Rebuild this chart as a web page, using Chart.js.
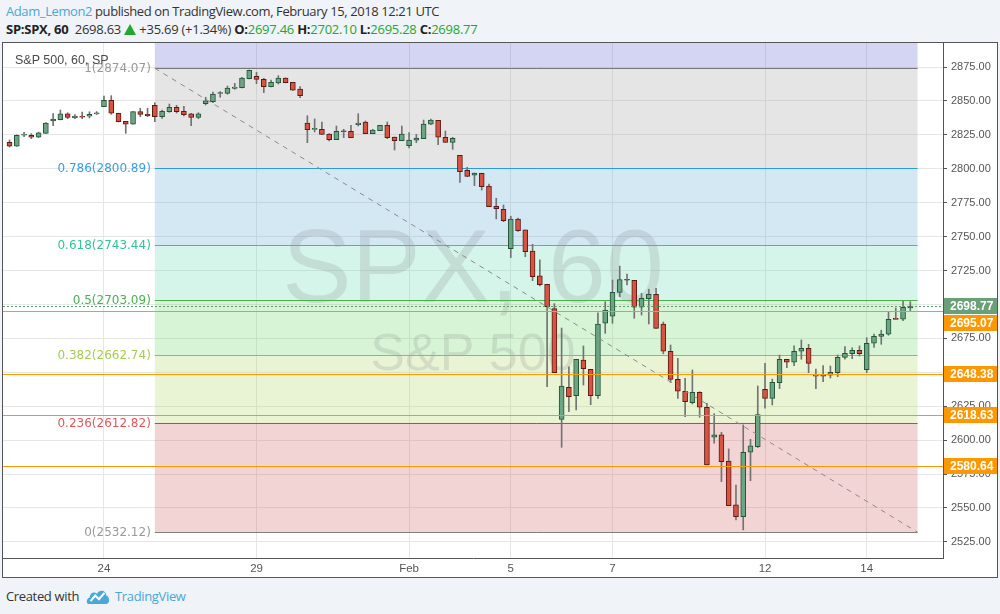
<!DOCTYPE html>
<html>
<head>
<meta charset="utf-8">
<script src="https://cdn.jsdelivr.net/npm/chart.js@4.4.0/dist/chart.umd.min.js"></script>
<style>
  body { margin: 0; width: 1000px; height: 614px; background: #f0f3f7; position: relative; overflow: hidden; font-family: 'Open Sans', sans-serif; color: #333; }
  #h1 { position: absolute; left: 6px; top: 2px; font-size: 13px; letter-spacing: -0.4px; white-space: nowrap; }
  #h1 .user { color: #4aa8d8; }
  #h2 { position: absolute; left: 6px; top: 20px; font-size: 13px; letter-spacing: -0.25px; white-space: nowrap; }
  #h2 b { color: #222; }
  #h2 .g { color: #22a82e; }
  #h2 .tri { display: inline-block; width: 0; height: 0; border-left: 6px solid transparent; border-right: 6px solid transparent; border-bottom: 11px solid #22a82e; vertical-align: -1px; }
  #box { position: absolute; left: 2px; top: 42px; width: 994px; height: 534px; border: 1px solid #555; background: #fff; }
  #sym { position: absolute; left: 15px; top: 53px; font-family: 'Liberation Sans', Arial, sans-serif; font-size: 12.5px; color: #4a4a4a; white-space: nowrap; }
  #foot { position: absolute; left: 6px; top: 587px; font-size: 13px; letter-spacing: -0.35px; white-space: nowrap; display: flex; align-items: center; }
  #foot .tv { color: #4aa8d8; margin-left: 5px; }
  #foot svg { margin-left: 7px; }
</style>
</head>
<body>
<div id="h1"><span class="user">Adam_Lemon2</span> published on TradingView.com, February 15, 2018 12:21 UTC</div>
<div id="h2"><b>SP:SPX, 60</b>&nbsp; 2698.63 <span class="tri"></span> +35.69 (+1.34%) <b>O:</b><span class="g">2697.46</span> <b>H:</b><span class="g">2702.10</span> <b>L:</b><span class="g">2695.28</span> <b>C:</b><span class="g">2698.77</span></div>
<div id="box"><canvas id="chart"></canvas></div>
<div id="sym">S&amp;P 500, 60, SP</div>
<div id="foot">Created with
  <svg width="24" height="17" viewBox="0 0 26 18"><path d="M3 17 C0 17 0 11 4 10 C4 5 9 3 12 6 C14 1 22 2 22 8 C26 9 26 17 22 17 Z" fill="#4aa8d8"/><polyline points="5,14 10,8 14,12 20,5" fill="none" stroke="#fff" stroke-width="2.2"/></svg>
  <span class="tv">TradingView</span></div>
<script>
// hourly SPX bars, Jan 22 (afternoon) .. Feb 14 2018
const open = [2819.5, 2816.6, 2824.8, 2824.7, 2823.2, 2826.1, 2835.2, 2836.2, 2840.4, 2837.7,
  2838.4, 2838.7, 2840.4, 2845.7, 2850.5, 2840.9, 2835.0, 2832.8, 2842.1, 2840.1,
  2846.8, 2838.4, 2842.1, 2845.3, 2842.3, 2840.4, 2837.9, 2848.0, 2849.4, 2855.5,
  2855.6, 2859.3, 2859.7, 2866.4, 2868.1, 2865.9, 2860.5, 2863.2, 2866.9, 2863.7,
  2858.8, 2833.7, 2829.0, 2829.1, 2825.6, 2821.4, 2827.8, 2827.6, 2832.5, 2834.5,
  2825.8, 2828.1, 2832.0, 2823.4, 2820.7, 2817.0, 2821.0, 2822.2, 2832.8, 2835.7,
  2823.2, 2819.5, 2809.9, 2798.9, 2795.2, 2796.7, 2787.3, 2772.3, 2770.1, 2741.1,
  2763.0, 2754.9, 2739.4, 2721.0, 2714.9, 2696.9, 2615.3, 2638.9, 2632.8, 2659.0,
  2652.2, 2632.8, 2686.1, 2691.3, 2708.9, 2718.4, 2717.8, 2697.9, 2704.2, 2707.5,
  2685.6, 2665.5, 2644.8, 2636.0, 2627.6, 2635.3, 2624.2, 2602.1, 2603.8, 2584.6,
  2552.2, 2543.6, 2591.1, 2595.2, 2637.5, 2630.8, 2642.4, 2659.6, 2657.4, 2665.5,
  2667.7, 2647.2, 2647.2, 2647.8, 2649.7, 2661.0, 2663.7, 2666.2, 2651.9, 2671.4,
  2676.5, 2678.0, 2689.4, 2689.1, 2697.46];
const high = [2821.2, 2825.0, 2826.9, 2825.9, 2827.0, 2834.0, 2840.6, 2843.3, 2841.3, 2839.9,
  2841.8, 2842.0, 2842.1, 2853.6, 2853.9, 2841.0, 2835.0, 2842.1, 2844.6, 2844.6,
  2848.7, 2843.3, 2847.7, 2846.8, 2846.0, 2840.9, 2841.3, 2852.7, 2856.6, 2856.9,
  2861.0, 2863.0, 2867.4, 2872.8, 2871.1, 2866.7, 2865.4, 2868.6, 2867.0, 2863.7,
  2860.5, 2839.1, 2836.7, 2834.5, 2826.0, 2831.5, 2829.1, 2832.0, 2840.6, 2835.2,
  2829.1, 2832.0, 2834.5, 2823.4, 2831.5, 2826.6, 2825.4, 2835.9, 2836.7, 2835.7,
  2827.8, 2823.2, 2809.9, 2801.1, 2796.9, 2796.7, 2788.8, 2778.3, 2773.3, 2765.0,
  2763.6, 2754.9, 2744.3, 2732.8, 2714.9, 2700.6, 2682.6, 2654.1, 2659.5, 2669.4,
  2652.2, 2693.9, 2702.0, 2718.0, 2728.3, 2722.4, 2717.8, 2708.2, 2711.2, 2711.9,
  2687.1, 2670.1, 2660.3, 2645.6, 2651.7, 2635.7, 2627.1, 2619.5, 2605.8, 2593.5,
  2566.9, 2611.2, 2600.6, 2639.9, 2656.6, 2645.0, 2662.7, 2659.6, 2669.4, 2673.8,
  2670.6, 2652.4, 2654.9, 2654.6, 2662.7, 2668.9, 2668.1, 2669.4, 2675.5, 2678.2,
  2681.0, 2694.4, 2697.4, 2702.5, 2702.10];
const low = [2816.0, 2816.5, 2823.6, 2822.2, 2823.0, 2826.0, 2831.7, 2836.0, 2836.9, 2836.9,
  2836.9, 2837.5, 2840.0, 2845.7, 2840.1, 2834.5, 2826.1, 2832.8, 2838.4, 2838.4,
  2834.7, 2837.2, 2841.6, 2841.1, 2838.9, 2831.7, 2836.9, 2847.0, 2848.7, 2852.7,
  2855.0, 2858.6, 2859.5, 2866.2, 2862.7, 2856.1, 2860.3, 2862.5, 2863.3, 2857.8,
  2852.4, 2819.2, 2827.1, 2825.1, 2820.5, 2821.4, 2822.9, 2822.9, 2831.5, 2825.8,
  2825.8, 2828.0, 2822.2, 2813.8, 2820.7, 2815.3, 2819.2, 2822.2, 2832.5, 2817.7,
  2819.5, 2814.3, 2790.0, 2794.2, 2787.5, 2784.3, 2772.0, 2763.0, 2761.0, 2734.5,
  2753.9, 2735.2, 2717.5, 2713.6, 2639.4, 2649.7, 2594.7, 2621.0, 2622.2, 2640.6,
  2626.1, 2630.8, 2678.7, 2686.1, 2705.7, 2714.3, 2689.8, 2692.2, 2685.6, 2682.4,
  2663.6, 2642.6, 2630.8, 2617.3, 2626.6, 2616.8, 2581.7, 2597.7, 2569.4, 2551.7,
  2541.1, 2533.8, 2570.1, 2594.5, 2623.5, 2625.9, 2638.0, 2653.4, 2654.9, 2659.6,
  2649.7, 2637.9, 2643.1, 2645.8, 2646.8, 2659.6, 2660.0, 2662.0, 2649.7, 2668.4,
  2670.6, 2677.3, 2689.0, 2688.0, 2695.28];
const close = [2816.6, 2824.7, 2825.2, 2823.2, 2826.4, 2833.7, 2836.7, 2840.4, 2837.9, 2838.9,
  2838.0, 2840.1, 2841.1, 2850.5, 2840.9, 2834.7, 2832.8, 2842.1, 2840.1, 2839.1,
  2838.4, 2842.3, 2845.3, 2842.1, 2839.8, 2837.9, 2840.4, 2850.0, 2855.1, 2856.2,
  2859.5, 2860.2, 2866.9, 2872.6, 2865.9, 2860.5, 2863.7, 2866.9, 2863.5, 2858.0,
  2853.8, 2828.8, 2829.2, 2825.4, 2821.4, 2827.6, 2827.3, 2822.9, 2833.7, 2825.8,
  2828.6, 2832.0, 2822.9, 2820.7, 2825.6, 2821.2, 2822.7, 2833.0, 2835.9, 2823.2,
  2819.5, 2822.5, 2797.8, 2794.4, 2796.9, 2786.8, 2772.0, 2770.6, 2761.7, 2763.0,
  2754.4, 2738.9, 2720.5, 2714.6, 2698.3, 2649.7, 2639.9, 2632.0, 2659.5, 2652.6,
  2632.8, 2685.6, 2695.9, 2708.9, 2718.4, 2717.8, 2697.9, 2704.5, 2707.5, 2682.4,
  2665.5, 2644.8, 2636.0, 2628.3, 2635.3, 2624.2, 2581.7, 2603.8, 2584.1, 2551.7,
  2543.6, 2591.0, 2595.7, 2618.8, 2630.8, 2642.6, 2659.6, 2657.4, 2665.5, 2667.7,
  2656.6, 2647.7, 2648.0, 2650.0, 2661.0, 2664.0, 2666.2, 2663.7, 2671.4, 2676.5,
  2678.2, 2689.1, 2689.0, 2697.9, 2698.77];

// first bar of each labelled day
const tickIdx = [13, 34, 55, 69, 83, 104, 118];
const tickLabels = ['24', '29', 'Feb', '5', '7', '12', '14'];
const yTicks = [2525, 2550, 2575, 2600, 2625, 2650, 2675, 2700, 2725, 2750, 2775, 2800, 2825, 2850, 2875];

// fib retracement, drawn from bar 20 to bar 125
const fibRatios = ['0', '0.236', '0.382', '0.5', '0.618', '0.786', '1'];
const fibPrices = [2532.12, 2612.82, 2662.74, 2703.09, 2743.44, 2800.89, 2874.07];
const fibStart = 20, fibEnd = 125;
const fibLine = ['#808080', '#e0393e', '#8bc34a', '#4caf50', '#2cc8a0', '#2d9ae0', '#787878'];
const fibText = ['#999999', '#e05858', '#a6cc52', '#4caf50', '#33c49a', '#3a9ee0', '#999999'];
const fibBand = ['rgba(215,112,112,0.3)', 'rgba(182,218,115,0.3)', 'rgba(122,218,118,0.3)',
  'rgba(115,222,185,0.3)', 'rgba(112,178,218,0.3)', 'rgba(168,168,168,0.3)'];
const topBand = 'rgba(108,115,212,0.3)';

// horizontal levels and last price
const hLevels = [2695.07, 2648.38, 2618.63, 2580.64];
const lastPrice = 2698.77;

const idx = open.map((_, i) => i);
const up = close.map((c, i) => c >= open[i]);

const overlay = {
  id: 'overlay',
  beforeDatasetsDraw(chart) {
    const { ctx, chartArea: a, scales: { x, y } } = chart;
    ctx.save();
    ctx.beginPath();
    ctx.rect(a.left, a.top, a.width, a.height);
    ctx.clip();
    const x0 = x.getPixelForValue(fibStart), x1 = x.getPixelForValue(fibEnd);
    // bands
    const yTop = y.getPixelForValue(fibPrices[6]);
    ctx.fillStyle = topBand;
    ctx.fillRect(x0, a.top, x1 - x0, yTop - a.top);
    for (let i = 0; i < 6; i++) {
      const ya = y.getPixelForValue(fibPrices[i + 1]), yb = y.getPixelForValue(fibPrices[i]);
      ctx.fillStyle = fibBand[i];
      ctx.fillRect(x0, ya, x1 - x0, yb - ya);
    }
    // watermark
    const cx = (a.left + a.right) / 2;
    ctx.fillStyle = 'rgba(110,110,110,0.17)';
    ctx.textAlign = 'center';
    ctx.textBaseline = 'middle';
    ctx.font = '104px "Liberation Sans", Arial, sans-serif';
    ctx.fillText('SPX, 60', cx, a.top + 230);
    ctx.font = '52px "Liberation Sans", Arial, sans-serif';
    ctx.fillText('S&P 500', cx, a.top + 313);
    // fib lines + labels
    ctx.lineWidth = 1;
    ctx.font = '12px "DejaVu Sans", sans-serif';
    ctx.textAlign = 'right';
    for (let i = 0; i < fibPrices.length; i++) {
      const py = Math.round(y.getPixelForValue(fibPrices[i])) + 0.5;
      ctx.strokeStyle = fibLine[i];
      ctx.beginPath();
      ctx.moveTo(x0, py);
      ctx.lineTo(x1, py);
      ctx.stroke();
      ctx.fillStyle = fibText[i];
      ctx.fillText(fibRatios[i] + '(' + fibPrices[i].toFixed(2) + ')', x0 - 4, py);
    }
    ctx.restore();
  },
  afterDatasetsDraw(chart) {
    const { ctx, chartArea: a, scales: { x, y } } = chart;
    ctx.save();
    ctx.beginPath();
    ctx.rect(a.left, a.top, a.width, a.height);
    ctx.clip();
    // trend line of the fib
    ctx.strokeStyle = '#8a8a8a';
    ctx.lineWidth = 1;
    ctx.setLineDash([5, 5]);
    ctx.beginPath();
    ctx.moveTo(x.getPixelForValue(fibStart), y.getPixelForValue(fibPrices[6]));
    ctx.lineTo(x.getPixelForValue(fibEnd), y.getPixelForValue(fibPrices[0]));
    ctx.stroke();
    // last price
    ctx.setLineDash([2, 2]);
    ctx.strokeStyle = '#5f9c72';
    let py = Math.round(y.getPixelForValue(lastPrice)) + 0.5;
    ctx.beginPath();
    ctx.moveTo(a.left, py);
    ctx.lineTo(a.right, py);
    ctx.stroke();
    // orange levels
    ctx.setLineDash([]);
    ctx.strokeStyle = '#ff9800';
    hLevels.forEach(v => {
      const ly = Math.round(y.getPixelForValue(v)) + 0.5;
      ctx.beginPath();
      ctx.moveTo(a.left, ly);
      ctx.lineTo(a.right, ly);
      ctx.stroke();
    });
    ctx.restore();
  },
  afterDraw(chart) {
    const { ctx, chartArea: a, scales: { y } } = chart;
    const labels = [{ v: lastPrice, c: '#6a9f78' }].concat(hLevels.map(v => ({ v, c: '#ff9800' })));
    labels.forEach(l => { l.y = y.getPixelForValue(l.v); });
    labels.sort((p, q) => p.y - q.y);
    const h = 16;
    let prev = -1e9;
    ctx.save();
    ctx.font = 'bold 12px "Liberation Sans", Arial, sans-serif';
    ctx.textBaseline = 'middle';
    ctx.textAlign = 'left';
    labels.forEach(l => {
      const cy = Math.max(l.y, prev + h + 1);
      prev = cy;
      ctx.fillStyle = l.c;
      ctx.fillRect(a.right + 1, Math.round(cy - h / 2), chart.width - a.right, h);
      ctx.fillStyle = '#fff';
      ctx.fillText(l.v.toFixed(2), a.right + 7, Math.round(cy) + 0.5);
    });
    ctx.restore();
  }
};

new Chart(document.getElementById('chart'), {
  type: 'bar',
  data: {
    datasets: [
      {
        label: 'body',
        data: idx.map(i => ({ x: i, y: [open[i], close[i]] })),
        backgroundColor: up.map(u => u ? '#6ba583' : '#d75442'),
        borderColor: up.map(u => u ? '#225437' : '#5b1a13'),
        borderWidth: 1,
        borderSkipped: false,
        barThickness: 5,
        minBarLength: 1,
        grouped: false,
        order: 0
      },
      {
        label: 'wick',
        data: idx.map(i => ({ x: i, y: [low[i], high[i]] })),
        backgroundColor: '#737375',
        barThickness: 1,
        grouped: false,
        order: 1
      }
    ]
  },
  options: {
    responsive: true,
    maintainAspectRatio: false,
    animation: false,
    layout: { padding: 0 },
    plugins: { legend: { display: false }, tooltip: { enabled: false } },
    scales: {
      x: {
        type: 'linear',
        min: -0.9,
        max: 128.5,
        offset: false,
        afterBuildTicks: s => { s.ticks = tickIdx.map(v => ({ value: v })); },
        afterFit: s => { s.height = 19; s.paddingLeft = 0; s.paddingRight = 0; },
        ticks: {
          autoSkip: false, maxRotation: 0, padding: 4, color: '#555',
          font: { family: '"Liberation Sans", Arial, sans-serif', size: 11.5 },
          callback: v => { const k = tickIdx.indexOf(v); return k >= 0 ? tickLabels[k] : ''; }
        },
        grid: { color: '#e6e6e6', drawTicks: false, offset: false },
        border: { color: '#555' }
      },
      y: {
        position: 'right',
        min: 2513.1,
        max: 2892.7,
        afterBuildTicks: s => { s.ticks = yTicks.map(v => ({ value: v })); },
        afterFit: s => { s.width = 54; s.paddingTop = 0; s.paddingBottom = 0; },
        ticks: {
          padding: 4, color: '#555',
          font: { family: '"Liberation Sans", Arial, sans-serif', size: 11 },
          callback: v => Number(v).toFixed(2)
        },
        grid: { color: '#e6e6e6', tickLength: 4, tickColor: '#555' },
        border: { color: '#555' }
      }
    }
  },
  plugins: [overlay]
});
</script>
</body>
</html>
